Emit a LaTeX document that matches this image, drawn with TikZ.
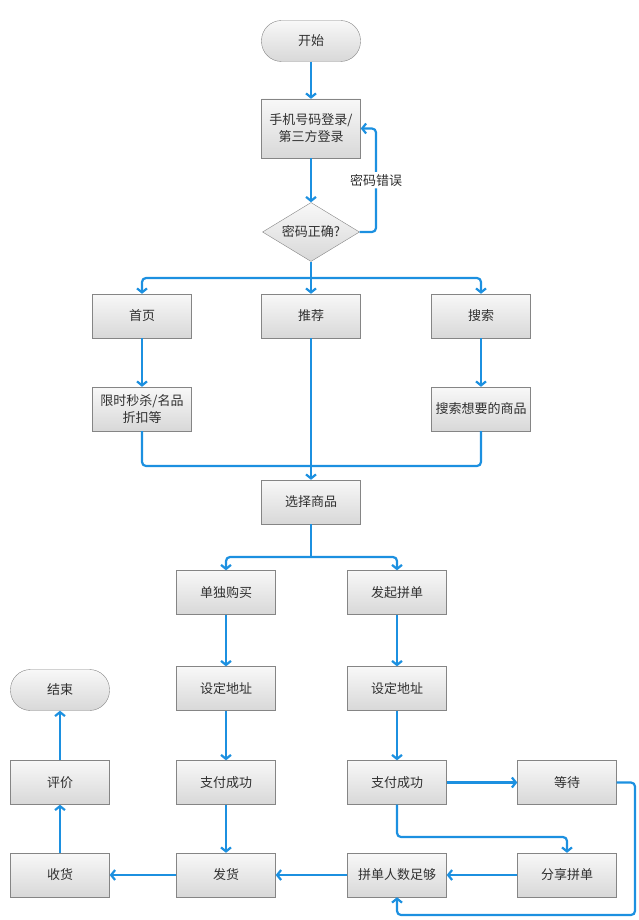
\documentclass[tikz,border=0pt]{standalone}
\usepackage{fontspec}
\setmainfont{Noto Sans CJK SC}
\usepackage{xcolor}
\usepackage{tikz}
\usetikzlibrary{shapes.geometric, arrows.meta}
\definecolor{flowblue}{HTML}{1C90E0}
\definecolor{boxline}{HTML}{858585}
\definecolor{boxtop}{HTML}{F8F8F8}
\definecolor{boxbot}{HTML}{D8D8D8}
\definecolor{txt}{HTML}{303030}

\begin{document}
\begin{tikzpicture}[x=1pt, y=-1pt,
    every node/.style={font=\fontsize{13}{17}\selectfont, text=txt},
    box/.style={rectangle, draw=boxline, top color=boxtop, bottom color=boxbot, minimum width=99pt, minimum height=44pt, inner sep=2pt, align=center},
    term/.style={box, rounded corners=20pt, minimum height=41pt},
    dec/.style={diamond, draw=boxline, top color=boxtop, bottom color=boxbot, minimum width=97pt, minimum height=59pt, inner sep=0pt, aspect=1.6},
    lbl/.style={fill=white, inner sep=2pt},
    flow/.style={draw=flowblue, line width=2.2pt, rounded corners=4pt, -{Straight Barb[length=4pt, width=10pt]}},
    link/.style={draw=flowblue, line width=2.2pt, rounded corners=4pt}]
     \useasboundingbox (0,0) rectangle (639,920);

     \node[term] (start) at (311,41) {开始};
     \node[box, minimum height=59pt] (login) at (311,128.5) {手机号码登录/\\第三方登录};
     \node[dec] (check) at (311,232) {密码正确?};

     \node[box] (home) at (142,316) {首页};
     \node[box] (rec) at (311,316) {推荐};
     \node[box] (search) at (481,316) {搜索};
     \node[box] (promo) at (142,409) {限时秒杀/名品\\折扣等};
     \node[box] (find) at (481,409) {搜索想要的商品};
     \node[box] (pick) at (311,502) {选择商品};

     \node[box] (solo) at (226,592.5) {单独购买};
     \node[box] (group) at (397,592.5) {发起拼单};
     \node[box] (addrA) at (226,688.5) {设定地址};
     \node[box] (addrB) at (397,688.5) {设定地址};
     \node[box] (payA) at (226,782.5) {支付成功};
     \node[box] (payB) at (397,782.5) {支付成功};
     \node[box] (wait) at (567,782.5) {等待};
     \node[box] (ship) at (226,875) {发货};
     \node[box] (enough) at (397,875) {拼单人数足够};
     \node[box] (share) at (567,875) {分享拼单};

     \node[box] (recv) at (60,875) {收货};
     \node[box] (review) at (60,782.5) {评价};
     \node[term] (finish) at (60,690) {结束};

     \coordinate (split) at (311,278);
     \coordinate (merge) at (311,466);
     \coordinate (fork) at (311,557);

     \draw[flow] (start) -- (login);
     \draw[flow] (login) -- (check);
     \draw[flow] (check.east) -- (376,232) -- node[lbl] {密码错误} (376,128.5) -- (login.east);

     \draw[link] (check.south) -- (split);
     \draw[flow] (split) -| (home.north);
     \draw[flow] (split) -- (rec.north);
     \draw[flow] (split) -| (search.north);
     \draw[flow] (home) -- (promo);
     \draw[flow] (search) -- (find);

     \draw[link] (promo.south) |- (merge);
     \draw[link] (find.south) |- (merge);
     \draw[flow] (rec.south) -- (pick.north);

     \draw[link] (pick.south) -- (fork);
     \draw[flow] (fork) -| (solo.north);
     \draw[flow] (fork) -| (group.north);

     \draw[flow] (solo) -- (addrA);
     \draw[flow] (addrA) -- (payA);
     \draw[flow] (payA) -- (ship);
     \draw[flow] (group) -- (addrB);
     \draw[flow] (addrB) -- (payB);
     \draw[flow] (payB) -- (wait);
     \draw[flow] (payB.south) -- (397,837) -| (share.north);
     \draw[flow] (wait.east) -- (635,782.5) -- (635,915) -| (enough.south);
     \draw[flow] (share) -- (enough);
     \draw[flow] (enough) -- (ship);
     \draw[flow] (ship) -- (recv);
     \draw[flow] (recv) -- (review);
     \draw[flow] (review) -- (finish);
 \end{tikzpicture}
\end{document}
